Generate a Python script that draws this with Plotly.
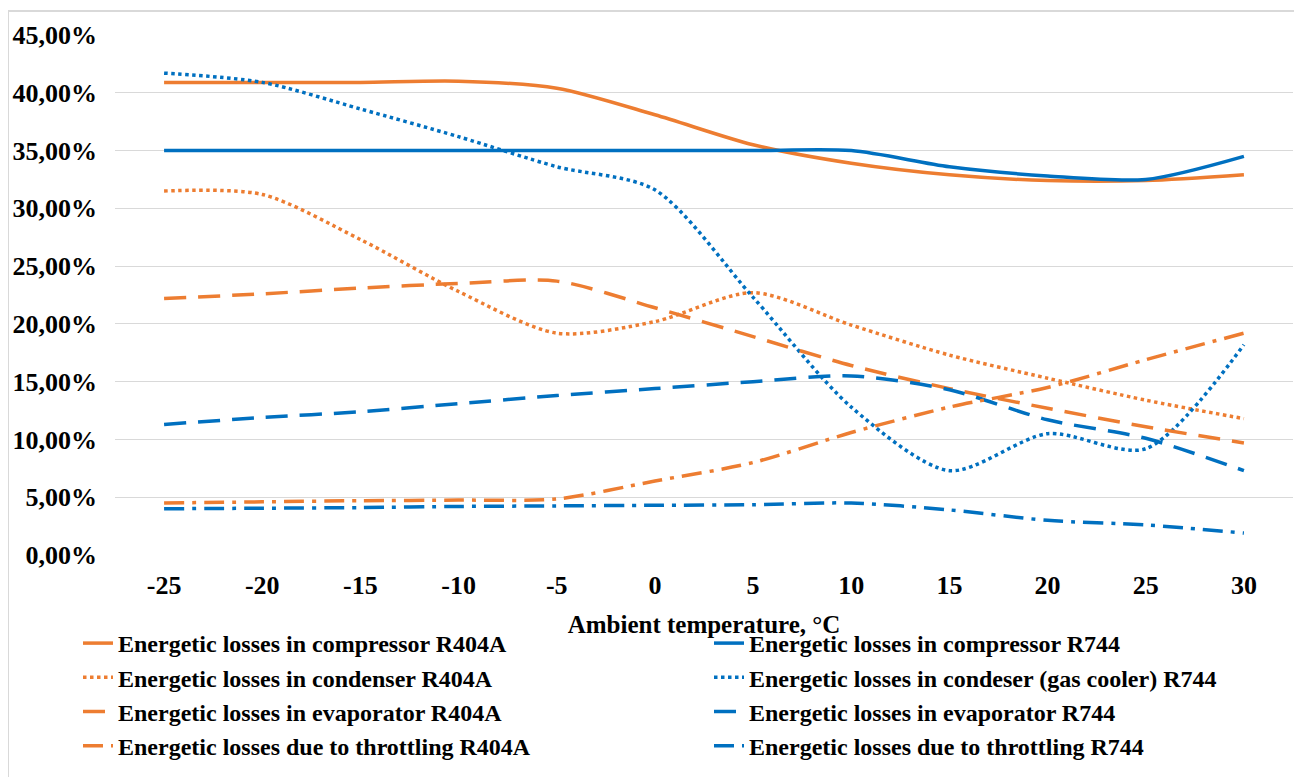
import plotly.graph_objects as go

temps = ["-25", "-20", "-15", "-10", "-5", "0", "5", "10", "15", "20", "25", "30"]

comp_r404a = [40.9, 40.9, 40.9, 41.0, 40.4, 38.1, 35.5, 33.9, 32.9, 32.4, 32.4, 32.9]
comp_r744 = [35.0, 35.0, 35.0, 35.0, 35.0, 35.0, 35.0, 35.0, 33.6, 32.8, 32.5, 34.5]
cond_r404a = [31.5, 31.2, 27.3, 22.8, 19.2, 20.2, 22.7, 19.9, 17.3, 15.3, 13.4, 11.8]
cond_r744 = [41.7, 40.9, 38.6, 36.2, 33.6, 31.6, 22.3, 12.8, 7.3, 10.5, 9.2, 18.2]
evap_r404a = [22.2, 22.6, 23.1, 23.5, 23.7, 21.4, 18.9, 16.4, 14.4, 12.7, 11.1, 9.7]
evap_r744 = [11.3, 11.9, 12.4, 13.1, 13.8, 14.4, 15.0, 15.5, 14.3, 11.7, 10.1, 7.3]
thr_r404a = [4.5, 4.6, 4.7, 4.75, 4.85, 6.4, 8.0, 10.6, 12.8, 14.5, 16.9, 19.2]
thr_r744 = [4.0, 4.05, 4.1, 4.2, 4.25, 4.3, 4.35, 4.5, 3.9, 3.0, 2.6, 1.9]

y_ticks = [0, 5, 10, 15, 20, 25, 30, 35, 40, 45]
y_tick_labels = ["0,00%", "5,00%", "10,00%", "15,00%", "20,00%",
                 "25,00%", "30,00%", "35,00%", "40,00%", "45,00%"]

ORANGE = "#ED7D31"
BLUE = "#0070C0"
W = 3.5
DASH = "22px,12px"
DASHDOT = "20px,8px,4px,8px"

series = [
    ("Energetic losses in compressor R404A", comp_r404a, ORANGE, "solid"),
    ("Energetic losses in compressor R744", comp_r744, BLUE, "solid"),
    ("Energetic losses in condenser R404A", cond_r404a, ORANGE, "dot"),
    ("Energetic losses in condeser (gas cooler) R744", cond_r744, BLUE, "dot"),
    ("Energetic losses in evaporator R404A", evap_r404a, ORANGE, DASH),
    ("Energetic losses in evaporator R744", evap_r744, BLUE, DASH),
    ("Energetic losses due to throttling R404A", thr_r404a, ORANGE, DASHDOT),
    ("Energetic losses due to throttling R744", thr_r744, BLUE, DASHDOT),
]

fig = go.Figure()
for name, vals, col, dash in series:
    fig.add_trace(go.Scatter(
        x=temps, y=vals, name=name, mode="lines",
        line=dict(color=col, width=W, dash=dash, shape="spline", smoothing=0.8),
    ))

# The page body has an 8px margin: figure px = page px - 8
OFF = 8
FONT = "Liberation Serif"
W_PX, H_PX = 1302 - OFF, 777 - OFF
L, R = 115 - OFF, 9
T = 35 - OFF
B = H_PX - (555 - OFF)
pw = W_PX - L - R
ph = H_PX - T - B


def px_x(page_x):
    return (page_x - OFF - L) / pw


def px_y(page_y):
    return (H_PX - B - (page_y - OFF)) / ph


fig.update_layout(
    width=W_PX, height=H_PX,
    margin=dict(l=L, r=R, t=T, b=B, autoexpand=False),
    paper_bgcolor="white", plot_bgcolor="white",
    font=dict(family=FONT, size=25, color="black"),
    showlegend=True,
    legend=dict(
        orientation="h",
        x=px_x(78), xanchor="left",
        y=px_y(621), yanchor="top",
        entrywidth=586, entrywidthmode="pixels",
        font=dict(family=FONT, size=24, color="black", weight="bold"),
        tracegroupgap=0,
        itemwidth=30,
        bgcolor="rgba(0,0,0,0)",
    ),
    xaxis=dict(
        type="category",
        range=[-0.5, 11.5],
        showgrid=False,
        showline=False,
        ticks="",
        tickfont=dict(family=FONT, size=26, color="black", weight="bold"),
        ticklabelstandoff=12,
        title=dict(text="<b>Ambient temperature, °C</b>",
                   font=dict(family=FONT, size=25, color="black"), standoff=16),
    ),
    yaxis=dict(
        range=[0, 45],
        tickvals=y_ticks,
        ticktext=y_tick_labels,
        showgrid=True, gridcolor="#d9d9d9", gridwidth=1,
        zeroline=False, showline=False, ticks="",
        tickfont=dict(family=FONT, size=26, color="black", weight="bold"),
        ticklabelstandoff=17,
    ),
    shapes=[dict(
        type="rect", xref="paper", yref="paper",
        x0=px_x(8), x1=px_x(1299),
        y0=px_y(800), y1=px_y(11),
        line=dict(color="#d9d9d9", width=2), fillcolor="rgba(0,0,0,0)",
        layer="below",
    )],
)

fig.write_html("out.html")
